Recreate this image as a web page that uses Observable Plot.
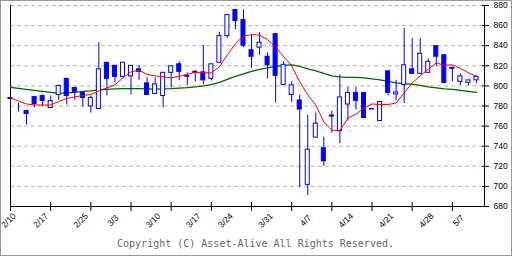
<!DOCTYPE html>
<html><head><meta charset="utf-8">
<script src="https://cdn.jsdelivr.net/npm/d3@7"></script>
<script src="https://cdn.jsdelivr.net/npm/@observablehq/plot@0.6"></script>
<style>
body{margin:0;background:#fff;}
#chart svg{display:block;outline:1px solid #999;outline-offset:-1px;}
</style></head><body><div id="chart"></div>
<script>
const dates = ["2/10","2/12","2/13","2/14","2/17","2/18","2/19","2/20","2/21","2/25","2/26","2/27","2/28","3/3","3/4","3/5","3/6","3/7","3/10","3/11","3/12","3/13","3/14","3/17","3/18","3/19","3/21","3/24","3/25","3/26","3/27","3/28","3/31","4/1","4/2","4/3","4/4","4/7","4/8","4/9","4/10","4/11","4/14","4/15","4/16","4/17","4/18","4/21","4/22","4/23","4/24","4/25","4/28","4/30","5/1","5/2","5/7","5/8","5/9"];
const opens  = [788,782,775,789,790,778,791,807,798,793,779.5,777,823,820,809,809.5,816.5,802.5,792,790,813,821.5,809,814,813.5,807,823,849.5,875.5,865.5,835.5,838,829,851.5,801,791,785.5,701.5,748.5,738,770.5,755,781.5,793,793,777,765,814.5,791.5,801,816.5,812,813,839.5,830.5,818,804,803,805.5];
const highs  = [788.5,783,776,789,791,790,800,807,798,793,790,843,823,820,823,820,820.5,808,808,813,819.5,824,813,815.5,840.5,821.5,853.5,870.5,876,875.5,850.5,853,833,851.5,824,804,791,771,773,749,775,811,798.5,798.5,793,777,784,814.5,805.5,857,847,847,827,839.5,830.5,818.5,812,805.5,810];
const lows   = [787,774,761,778,779,778,785.5,781,785.5,779,773,777,790,803,809,791,805.5,791,792,778,798,805,800.5,804,801,805,823,847.5,856,838,817.5,830.5,807,783,801,783.5,699,691,748.5,720,753,742.5,765,776,768,776.5,765,790,785,782.5,812,812,813,819,803,804,800.5,800,802.5];
const closes = [787,782,772,782,785,785,800,790,793.5,788,788,816.5,807,809,823,820,814,791,801.5,813,819.5,814,810,813,805.5,821.5,849.5,870.5,864.5,840,829,843,820.5,810,821,800.5,776.5,736.5,762.5,725,769.5,788.5,793,785,768,776.5,784,793,793.5,820.5,812,832,824,829,803,817,809.5,805.5,809];
const maShort = [788,785,782,781,781,781,784.5,787.5,789,790.5,791.5,795,798,801,808,814,815.5,811.5,810,809,808,809.5,811.5,813.5,813,813,819,831,842,849.5,851,850.5,846,839,829,820,804,791,781,764,756,755.5,768,772,778,782,781.5,781.5,783,793,803,810,816.5,823,820.5,821,817.5,813,809.5];
const maLong = [798.5,797.5,796.5,795.5,794.5,793.5,792.5,793,793.5,794.5,795,796,796.5,797,797.3,797.3,797.3,797,796.8,797,797.3,797.8,798.3,799,800,801.3,803.5,806.5,809.5,812,814.5,816.5,818,819.5,820.5,821,819.5,817,815,812.5,810,809,808.5,808.5,808,807,806,804.5,803,802.2,801.6,800.5,799,798,797,796.5,795.5,794.5,793.5];
const yTicks = [680,700,720,740,760,780,800,820,840,860,880];
const labelDates = ["2/10","2/17","2/25","3/3","3/10","3/17","3/24","3/31","4/7","4/14","4/21","4/28","5/7"];
const tickIdx = [0,5,10,15,20,25,30,35,40,45,50,55];
const copyright = "Copyright (C) Asset-Alive All Rights Reserved.";

const candles = dates.map((d,i)=>({i, date:d, open:opens[i], high:highs[i], low:lows[i], close:closes[i]}));
const ups = candles.filter(d=>d.close>=d.open);
const downs = candles.filter(d=>d.close<d.open);
const labels = labelDates.map(d=>({i: dates.indexOf(d), label:d}));
const maRows = dates.map((d,i)=>({i, s: maShort[i], l: maLong[i]}));
const blue = "#0000ff";

const chart = Plot.plot({
  width:512, height:256, marginLeft:10, marginRight:28, marginTop:5, marginBottom:50,
  style:{background:"#fff", fontFamily:"'Liberation Sans', Arial, sans-serif", fontSize:"8.5px", color:"#000"},
  x:{type:"linear", domain:[0,59]},
  y:{domain:[680,880]},
  marks:[
    Plot.gridY(yTicks.filter(v=>v>680), {stroke:"#b4b4b4", strokeOpacity:1, strokeDasharray:"4,3"}),
    Plot.ruleX([0], {stroke:"#000"}),
    Plot.ruleX([59], {stroke:"#000"}),
    Plot.ruleY([680], {stroke:"#000"}),
    Plot.axisX({ticks: tickIdx, tickSize: 9, tickFormat: ()=>"", label:null}),
    Plot.axisY({anchor:"right", ticks: yTicks, tickSize: 7, tickPadding: 2, label:null}),
    Plot.line(maRows, {x:"i", y:"l", stroke:"#006400", strokeWidth:1.3}),
    Plot.ruleX(candles, {x:"i", y1:"low", y2:"high", stroke:blue}),
    Plot.rect(ups, {x1: d=>d.i-0.25, x2: d=>d.i+0.25, y1:"open", y2:"close", fill:"#fff", stroke:blue}),
    Plot.rect(downs, {x1: d=>d.i-0.25, x2: d=>d.i+0.25, y1:"open", y2:"close", fill:blue, stroke:blue}),
    Plot.line(maRows, {x:"i", y:"s", stroke:"#ff0000", strokeWidth:1}),
    Plot.text(labels, {x:"i", frameAnchor:"bottom", dy:16, rotate:-45, text:"label", fontSize:8.5}),
    Plot.text([copyright], {frameAnchor:"bottom", dx:8, dy:40, text:d=>d, fontFamily:"'DejaVu Sans Mono', monospace", fontSize:10, fill:"#666"})
  ]
});
d3.select(chart).selectAll('g[aria-label="y-axis tick"]').attr("transform", function(){ return (this.getAttribute("transform")||"") + " translate(-3,0)"; });
d3.select(chart).selectAll('g[aria-label="x-axis tick"]').attr("transform", function(){ return (this.getAttribute("transform")||"") + " translate(0,-4)"; });
document.getElementById("chart").appendChild(chart);
</script></body></html>
